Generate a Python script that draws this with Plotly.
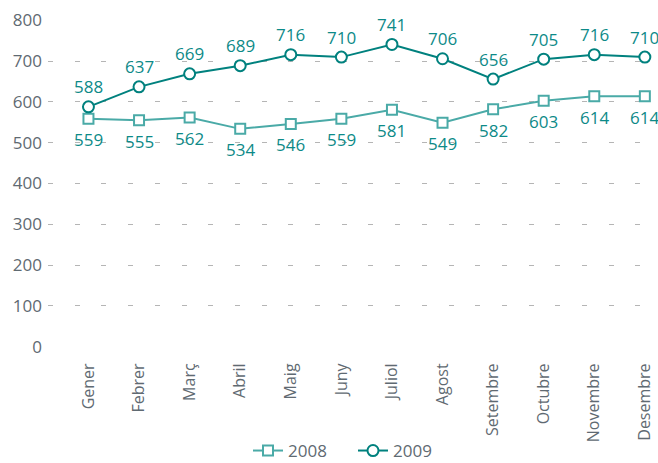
import plotly.graph_objects as go

months = ["Gener", "Febrer", "Març", "Abril", "Maig", "Juny", "Juliol",
          "Agost", "Setembre", "Octubre", "Novembre", "Desembre"]
v2008 = [559, 555, 562, 534, 546, 559, 581, 549, 582, 603, 614, 614]
v2009 = [588, 637, 669, 689, 716, 710, 741, 706, 656, 705, 716, 710]
y_ticks = [0, 100, 200, 300, 400, 500, 600, 700, 800]

c2008 = "#4aaaa7"
c2009 = "#00817e"
ctext = "#0d8a88"
cgrey = "#5f6a72"
FONT = "Open Sans"

fig = go.Figure()
fig.add_trace(go.Scatter(
    x=months, y=v2008, name="2008", mode="lines+markers",
    line=dict(color=c2008, width=2),
    marker=dict(symbol="square", size=10, color="white",
                line=dict(color=c2008, width=2)),
    cliponaxis=False,
))
fig.add_trace(go.Scatter(
    x=months, y=v2009, name="2009", mode="lines+markers",
    line=dict(color=c2009, width=2),
    marker=dict(symbol="circle", size=11, color="white",
                line=dict(color=c2009, width=2)),
    cliponaxis=False,
))

for m, v in zip(months, v2008):
    fig.add_annotation(x=m, y=v, text=str(v), showarrow=False, yshift=-21,
                       xanchor="center", yanchor="middle",
                       font=dict(family=FONT, size=17, color=ctext))
for m, v in zip(months, v2009):
    fig.add_annotation(x=m, y=v, text=str(v), showarrow=False, yshift=20,
                       xanchor="center", yanchor="middle",
                       font=dict(family=FONT, size=17, color=ctext))

fig.update_layout(
    width=658, height=463,
    margin=dict(l=48, r=0, t=20, b=116, autoexpand=False),
    paper_bgcolor="white", plot_bgcolor="white",
    font=dict(family=FONT, size=16, color=cgrey),
    showlegend=True,
    legend=dict(orientation="h", x=0.5, xanchor="center", y=-0.318, yanchor="middle",
                font=dict(family=FONT, size=17, color=cgrey),
                itemwidth=30, entrywidth=60, entrywidthmode="pixels"),
    xaxis=dict(
        type="category", range=[-0.8, 11.26], automargin=False,
        showgrid=False, zeroline=False, showline=False,
        tickangle=-90, ticks="outside", ticklen=9, tickcolor="rgba(0,0,0,0)",
        tickfont=dict(family=FONT, size=16, color=cgrey),
    ),
    yaxis=dict(
        range=[-1, 801], tickvals=y_ticks, automargin=False,
        showgrid=True, gridcolor="#b5b5b5", griddash="5px,21.7px", gridwidth=1,
        zeroline=False, showline=False,
        ticks="", ticklabelstandoff=5,
        tickfont=dict(family=FONT, size=17, color=cgrey),
    ),
)

fig.write_html("out.html", config={"displayModeBar": False},
               post_script="document.body.style.margin='0';document.body.style.overflow='hidden';")
